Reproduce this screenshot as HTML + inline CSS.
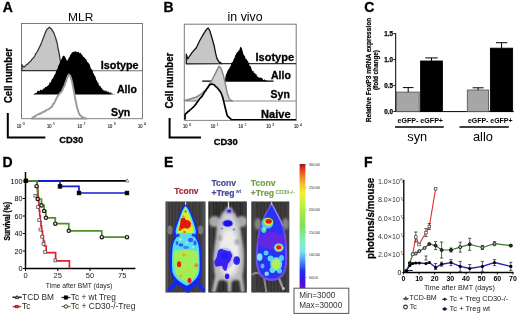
<!DOCTYPE html>
<html><head><meta charset="utf-8"><style>
html,body{margin:0;padding:0;background:#fff;}
svg{display:block;font-family:"Liberation Sans", sans-serif;filter:blur(0.35px);}
</style></head><body>
<svg width="520" height="316" viewBox="0 0 520 316">
<text x="2.8" y="12.2" font-size="14" font-weight="bold" fill="#000" text-anchor="start" stroke="#000" stroke-width="0.3" >A</text>
<text x="68" y="21.1" font-size="11.7" font-weight="normal" fill="#000" textLength="25.3" lengthAdjust="spacingAndGlyphs">MLR</text>
<rect x="21.5" y="23.5" width="121" height="95.1" fill="none" stroke="#7a7a7a" stroke-width="1"/>
<polygon points="21.9,70.6 21.9,64.7 23.0,66.5 24.0,67.1 24.9,66.3 25.8,65.4 26.8,64.4 27.7,64.2 28.6,62.8 29.5,62.3 30.4,61.2 31.4,60.4 32.3,58.7 33.3,57.9 34.2,56.8 35.0,55.5 35.8,53.6 36.6,52.5 37.4,51.3 38.2,49.7 39.4,47.3 40.6,44.9 41.6,42.4 42.7,39.4 43.7,37.0 44.9,33.7 46.1,30.7 47.2,29.2 48.2,28.3 49.3,27.1 50.5,28.4 51.6,29.1 52.8,31.2 54.0,33.1 54.8,35.6 55.6,37.8 56.4,40.5 57.2,43.4 58.0,48.1 59.2,53.6 60.5,62.0 61.5,70.6" fill="#c6c6c6" stroke="#333" stroke-width="1.25" stroke-linejoin="round"/>
<line x1="61" y1="70.8" x2="142.5" y2="70.8" stroke="#707070" stroke-width="1.1"/>
<polygon points="33.5,94.6 34.1,93.6 34.8,93.8 35.5,93.0 36.1,93.1 36.8,92.7 37.4,91.1 38.1,90.6 38.7,91.1 39.4,91.4 40.0,90.0 40.6,89.6 41.3,90.8 42.0,89.4 42.6,89.8 43.2,88.8 43.9,88.5 44.6,88.2 45.2,86.7 45.9,87.2 46.5,87.1 47.2,85.9 47.9,85.8 48.5,85.1 49.2,84.2 49.8,82.3 50.4,82.7 51.0,81.4 51.7,79.8 52.3,78.3 52.9,78.9 53.5,77.2 54.1,75.6 54.8,74.6 55.5,73.4 56.1,71.1 56.8,70.0 57.4,68.9 58.1,66.3 58.7,65.0 59.4,64.1 60.0,61.8 60.6,61.3 61.3,58.9 62.0,58.6 62.7,56.0 63.4,55.8 64.2,55.8 64.9,56.8 65.7,58.1 66.6,60.3 67.4,60.7 68.3,58.8 69.2,57.2 69.8,56.4 70.5,54.6 71.2,53.9 71.8,52.8 72.5,52.2 73.2,51.8 73.9,52.0 74.6,51.6 75.3,51.1 76.0,52.0 76.7,51.7 77.3,52.3 78.0,52.2 78.7,51.6 79.4,53.2 80.1,53.1 80.8,52.7 81.5,54.7 82.2,54.6 82.9,56.4 83.6,57.1 84.3,57.3 85.0,58.5 85.7,58.9 86.4,59.4 87.1,61.7 87.8,62.2 88.5,62.7 89.2,64.2 89.8,64.6 90.5,67.5 91.2,69.1 91.8,69.4 92.5,70.1 93.1,73.1 93.8,73.8 94.4,75.5 95.1,76.1 95.7,77.7 96.3,79.9 97.0,80.7 97.7,82.8 98.3,82.4 98.9,84.9 99.6,86.0 100.3,85.8 101.0,87.8 101.7,87.7 102.4,89.5 103.1,89.4 103.7,90.7 104.4,90.2 105.0,91.5 105.6,90.5 106.2,90.4 106.9,91.8 107.5,92.0 108.1,91.3 108.7,91.8 109.3,92.4 109.9,93.1 110.5,92.4 111.2,92.3 111.8,94.2 112.4,93.3 113.0,94.8 113.6,94.1 114.4,95.1 115.3,94.6" fill="#000"/>
<polygon points="31.6,118.6 32.4,117.9 33.2,117.2 34.0,117.1 34.9,116.0 35.7,115.9 36.5,115.3 37.3,114.8 38.2,114.2 39.0,114.3 39.8,113.5 40.7,113.5 41.5,113.2 42.3,112.3 43.1,111.9 44.0,111.7 44.8,111.6 45.6,110.5 46.4,110.4 47.2,109.6 48.1,109.4 48.9,109.2 49.7,108.3 50.6,107.6 51.4,107.1 52.2,106.3 53.0,104.2 53.9,103.7 54.7,102.1 55.9,99.5 57.1,97.2 57.9,95.8 58.8,94.7 59.6,93.9 60.4,92.6 61.3,92.0 62.1,90.6 63.3,87.8 64.5,85.6 65.3,83.2 66.2,80.8 67.0,78.2 67.8,76.3 68.7,74.6 70.3,75.8 71.2,78.7 72.0,81.5 73.6,89.8 74.4,93.9 75.2,98.8 76.1,102.6 76.9,107.1 77.7,109.3 78.6,112.2 79.4,114.5 80.2,115.2 81.1,115.8 81.9,116.8 82.7,117.4 83.5,117.6 84.3,117.7 85.2,118.4 86.0,118.5 86.8,118.6" fill="#fff" stroke="#999" stroke-width="1.9" stroke-linejoin="round"/>
<line x1="21.5" y1="118.6" x2="142.5" y2="118.6" stroke="#9a9a9a" stroke-width="1"/>
<text x="100.8" y="69.1" font-size="10.5" font-weight="bold" fill="#000" text-anchor="start" stroke="#000" stroke-width="0.3" textLength="37.8" lengthAdjust="spacingAndGlyphs">Isotype</text>
<text x="117" y="93" font-size="10.5" font-weight="bold" fill="#000" text-anchor="start" stroke="#000" stroke-width="0.3" >Allo</text>
<text x="111" y="115.7" font-size="10.5" font-weight="bold" fill="#000" text-anchor="start" stroke="#000" stroke-width="0.3" >Syn</text>
<text x="16.8" y="127.6" font-size="4.9" fill="#333" stroke="#333" stroke-width="0.2" textLength="4.5" lengthAdjust="spacingAndGlyphs">10</text>
<text x="22.8" y="125.3" font-size="3.4" fill="#333" stroke="#333" stroke-width="0.1">0</text>
<text x="47.1" y="127.6" font-size="4.9" fill="#333" stroke="#333" stroke-width="0.2" textLength="4.5" lengthAdjust="spacingAndGlyphs">10</text>
<text x="53.1" y="125.3" font-size="3.4" fill="#333" stroke="#333" stroke-width="0.1">1</text>
<text x="77.4" y="127.6" font-size="4.9" fill="#333" stroke="#333" stroke-width="0.2" textLength="4.5" lengthAdjust="spacingAndGlyphs">10</text>
<text x="83.4" y="125.3" font-size="3.4" fill="#333" stroke="#333" stroke-width="0.1">2</text>
<text x="107.7" y="127.6" font-size="4.9" fill="#333" stroke="#333" stroke-width="0.2" textLength="4.5" lengthAdjust="spacingAndGlyphs">10</text>
<text x="113.7" y="125.3" font-size="3.4" fill="#333" stroke="#333" stroke-width="0.1">3</text>
<text x="138.0" y="127.6" font-size="4.9" fill="#333" stroke="#333" stroke-width="0.2" textLength="4.5" lengthAdjust="spacingAndGlyphs">10</text>
<text x="144.0" y="125.3" font-size="3.4" fill="#333" stroke="#333" stroke-width="0.1">4</text>
<text transform="translate(11.7,103) rotate(-90)" font-size="11" font-weight="bold" fill="#000" text-anchor="start" textLength="55" lengthAdjust="spacingAndGlyphs" stroke="#000" stroke-width="0.3">Cell number</text>
<path d="M7.8,113 V137.6 H45.3" fill="none" stroke="#000" stroke-width="2"/>
<text x="59.2" y="142.9" font-size="9.4" font-weight="bold" fill="#000" text-anchor="start" stroke="#000" stroke-width="0.3" >CD30</text>
<text x="163.6" y="12.2" font-size="14" font-weight="bold" fill="#000" text-anchor="start" stroke="#000" stroke-width="0.3" >B</text>
<text x="227.6" y="21.3" font-size="12" font-weight="normal" fill="#000" textLength="35" lengthAdjust="spacingAndGlyphs">in vivo</text>
<rect x="184.3" y="24.2" width="111.9" height="96.1" fill="none" stroke="#7a7a7a" stroke-width="1"/>
<polygon points="186.3,63.8 186.3,54.1 187.7,59.0 192.0,52.6 196.3,47.7 199.8,40.5 203.4,34.1 206.2,29.8 208.1,28.0 209.8,30.6 211.9,37.7 214.1,45.5 215.5,52.6 216.9,58.3 219.0,61.9 221.9,63.6" fill="#c6c6c6" stroke="#111" stroke-width="1.3" stroke-linejoin="round"/>
<line x1="221" y1="63.6" x2="296.1" y2="63.6" stroke="#333" stroke-width="1.1"/>
<line x1="202.2" y1="81.1" x2="273.5" y2="81.1" stroke="#000" stroke-width="1.2"/>
<polygon points="224.8,81.1 225.8,75.0 226.5,73.5 227.2,72.1 227.9,69.8 228.5,69.4 229.1,68.7 229.8,67.3 230.4,66.6 231.0,64.7 231.6,62.4 232.2,62.1 232.8,62.0 233.4,60.1 234.0,58.5 234.6,58.1 235.2,55.2 235.9,54.7 236.5,53.0 237.1,52.3 237.7,51.9 238.2,51.6 238.8,49.9 239.3,50.5 239.9,48.0 240.6,46.8 241.5,47.6 242.2,49.5 242.9,52.3 243.5,54.5 244.1,55.5 244.7,55.5 245.3,57.5 245.9,59.2 246.5,58.7 247.2,60.8 247.8,60.8 248.4,62.6 249.0,62.7 249.6,65.9 250.3,65.7 250.9,66.9 251.5,68.8 252.1,70.7 252.7,71.3 253.4,70.8 254.0,73.1 254.6,72.9 255.2,73.6 255.8,74.5 256.4,74.0 256.9,76.2 257.5,76.2 258.1,77.4 258.7,77.0 259.3,78.2 259.8,77.2 260.4,77.7 261.0,77.6 261.5,77.9 262.1,78.1 262.7,79.0 263.2,80.0 263.8,80.1 264.4,79.1 265.0,80.7 265.5,80.1 266.1,80.1 266.7,81.4 267.3,80.7 267.8,80.5 268.4,80.9 269.0,81.1" fill="#000"/>
<polygon points="184.3,100.8 190.2,99.0 196.4,97.0 201.5,93.9 206.7,88.8 211.8,80.5 215.9,72.3 219.0,66.2 221.0,68.2 223.1,74.4 225.1,82.6 227.2,92.9 229.3,99.0 232.3,101.0" fill="#d2d2d2" stroke="#888" stroke-width="1.5" stroke-linejoin="round"/>
<line x1="231" y1="101" x2="296.1" y2="101" stroke="#8a8a8a" stroke-width="1.1"/>
<polyline points="185.1,119.6 185.1,114.4 186.1,113.4 187.2,112.5 188.2,111.4 189.0,111.1 189.9,110.0 190.8,109.4 191.6,108.7 192.5,107.7 193.3,107.3 194.1,106.3 194.9,105.3 195.8,104.4 196.6,102.8 197.4,102.1 198.4,100.6 199.5,99.0 200.5,98.0 201.5,96.9 202.6,95.4 203.6,93.9 204.6,91.8 205.7,90.9 206.7,88.8 207.7,87.9 208.7,86.2 209.7,84.7 210.8,84.5 211.8,84.0 212.8,84.3 213.9,84.7 214.9,85.7 215.9,86.8 217.0,87.4 218.0,88.8 219.0,89.9 220.0,91.3 221.0,92.9 222.1,95.5 223.1,99.0 224.1,103.1 225.1,107.3 226.1,111.3 227.2,115.5 228.2,116.8 229.3,117.6 230.3,118.6 231.2,119.2 232.0,119.6" fill="#fff" stroke="#000" stroke-width="1.7" stroke-linejoin="round"/>
<line x1="231" y1="119.6" x2="296.1" y2="119.6" stroke="#000" stroke-width="1.1"/>
<text x="255.5" y="61" font-size="10.5" font-weight="bold" fill="#000" text-anchor="start" stroke="#000" stroke-width="0.3" textLength="38.5" lengthAdjust="spacingAndGlyphs">Isotype</text>
<text x="271" y="79.3" font-size="10.5" font-weight="bold" fill="#000" text-anchor="start" stroke="#000" stroke-width="0.3" >Allo</text>
<text x="270.6" y="98.4" font-size="10.5" font-weight="bold" fill="#000" text-anchor="start" stroke="#000" stroke-width="0.3" >Syn</text>
<text x="261" y="117.7" font-size="10.5" font-weight="bold" fill="#000" text-anchor="start" stroke="#000" stroke-width="0.3" textLength="29.6" lengthAdjust="spacingAndGlyphs">Naive</text>
<text x="182.9" y="127.8" font-size="4.9" fill="#333" stroke="#333" stroke-width="0.2" textLength="4.5" lengthAdjust="spacingAndGlyphs">10</text>
<text x="188.9" y="125.5" font-size="3.4" fill="#333" stroke="#333" stroke-width="0.1">0</text>
<text x="210.7" y="127.8" font-size="4.9" fill="#333" stroke="#333" stroke-width="0.2" textLength="4.5" lengthAdjust="spacingAndGlyphs">10</text>
<text x="216.7" y="125.5" font-size="3.4" fill="#333" stroke="#333" stroke-width="0.1">1</text>
<text x="238.5" y="127.8" font-size="4.9" fill="#333" stroke="#333" stroke-width="0.2" textLength="4.5" lengthAdjust="spacingAndGlyphs">10</text>
<text x="244.5" y="125.5" font-size="3.4" fill="#333" stroke="#333" stroke-width="0.1">2</text>
<text x="266.3" y="127.8" font-size="4.9" fill="#333" stroke="#333" stroke-width="0.2" textLength="4.5" lengthAdjust="spacingAndGlyphs">10</text>
<text x="272.3" y="125.5" font-size="3.4" fill="#333" stroke="#333" stroke-width="0.1">3</text>
<text x="294.1" y="127.8" font-size="4.9" fill="#333" stroke="#333" stroke-width="0.2" textLength="4.5" lengthAdjust="spacingAndGlyphs">10</text>
<text x="300.1" y="125.5" font-size="3.4" fill="#333" stroke="#333" stroke-width="0.1">4</text>
<text transform="translate(173.2,108.5) rotate(-90)" font-size="11" font-weight="bold" fill="#000" text-anchor="start" textLength="55.8" lengthAdjust="spacingAndGlyphs" stroke="#000" stroke-width="0.3">Cell number</text>
<path d="M169.6,118 V137.5 H201" fill="none" stroke="#000" stroke-width="2"/>
<text x="213.8" y="144.6" font-size="9.4" font-weight="bold" fill="#000" text-anchor="start" stroke="#000" stroke-width="0.3" >CD30</text>
<text x="364.2" y="12.2" font-size="14" font-weight="bold" fill="#000" text-anchor="start" stroke="#000" stroke-width="0.3" >C</text>
<text transform="translate(371.3,122.2) rotate(-90)" font-size="6.5" font-weight="bold" fill="#000" text-anchor="start" textLength="104.4" lengthAdjust="spacingAndGlyphs" stroke="#000" stroke-width="0.2">Relative FoxP3 mRNA expression</text>
<text transform="translate(378.2,90) rotate(-90)" font-size="6.4" font-weight="bold" fill="#000" text-anchor="start" textLength="40" lengthAdjust="spacingAndGlyphs" stroke="#000" stroke-width="0.2">(fold change)</text>
<path d="M395.7,33.2 V111.6 H513.8" fill="none" stroke="#000" stroke-width="1"/>
<line x1="393.3" y1="111.5" x2="395.7" y2="111.5" stroke="#000" stroke-width="0.9"/>
<text x="393" y="113.7" font-size="6.3" font-weight="bold" fill="#000" text-anchor="end" stroke="#000" stroke-width="0.25" >0.0</text>
<line x1="393.3" y1="85.6" x2="395.7" y2="85.6" stroke="#000" stroke-width="0.9"/>
<text x="393" y="87.8" font-size="6.3" font-weight="bold" fill="#000" text-anchor="end" stroke="#000" stroke-width="0.25" >0.5</text>
<line x1="393.3" y1="59.6" x2="395.7" y2="59.6" stroke="#000" stroke-width="0.9"/>
<text x="393" y="61.800000000000004" font-size="6.3" font-weight="bold" fill="#000" text-anchor="end" stroke="#000" stroke-width="0.25" >1.0</text>
<line x1="393.3" y1="33.6" x2="395.7" y2="33.6" stroke="#000" stroke-width="0.9"/>
<text x="393" y="35.800000000000004" font-size="6.3" font-weight="bold" fill="#000" text-anchor="end" stroke="#000" stroke-width="0.25" >1.5</text>
<rect x="396.4" y="92.1" width="22.80000000000001" height="19.400000000000006" fill="#a6a6a6" stroke="#5a5a5a" stroke-width="0.9"/>
<path d="M408.2,92.1 V87.6 M402.9,87.6 H413.5" stroke="#000" stroke-width="1" fill="none"/>
<rect x="420.6" y="61.0" width="21.799999999999955" height="50.5" fill="#000" stroke="#000" stroke-width="0.9"/>
<path d="M431.5,61.0 V57.9 M425.3,57.9 H437.7" stroke="#000" stroke-width="1" fill="none"/>
<rect x="467.3" y="90.0" width="21.19999999999999" height="21.5" fill="#a6a6a6" stroke="#5a5a5a" stroke-width="0.9"/>
<path d="M478.1,90.0 V87.8 M472.6,87.8 H483.6" stroke="#000" stroke-width="1" fill="none"/>
<rect x="490.4" y="48.2" width="22.200000000000045" height="63.3" fill="#000" stroke="#000" stroke-width="0.9"/>
<path d="M501.6,48.2 V42.7 M496.0,42.7 H507.20000000000005" stroke="#000" stroke-width="1" fill="none"/>
<text x="397.5" y="122.6" font-size="7" font-weight="bold" fill="#000" text-anchor="start" textLength="45.5" lengthAdjust="spacingAndGlyphs">eGFP- eGFP+</text>
<text x="468" y="122.6" font-size="7" font-weight="bold" fill="#000" text-anchor="start" textLength="44.5" lengthAdjust="spacingAndGlyphs">eGFP- eGFP+</text>
<line x1="395" y1="127" x2="443.8" y2="127" stroke="#000" stroke-width="1.5"/>
<line x1="459.5" y1="127" x2="508.8" y2="127" stroke="#000" stroke-width="1.5"/>
<text x="407.3" y="141.2" font-size="12.8" font-weight="normal" fill="#000" text-anchor="start" >syn</text>
<text x="473" y="141.2" font-size="12.8" font-weight="normal" fill="#000" text-anchor="start" >allo</text>
<text x="2.5" y="166.5" font-size="14" font-weight="bold" fill="#000" text-anchor="start" stroke="#000" stroke-width="0.3" >D</text>
<path d="M25.5,172 V268.5 H135.4" fill="none" stroke="#000" stroke-width="1.5"/>
<line x1="22.8" y1="268.5" x2="25.5" y2="268.5" stroke="#000" stroke-width="1"/>
<text x="22.5" y="271.1" font-size="7.2" font-weight="normal" fill="#000" text-anchor="end" >0</text>
<line x1="22.8" y1="251.0" x2="25.5" y2="251.0" stroke="#000" stroke-width="1"/>
<text x="22.5" y="253.6" font-size="7.2" font-weight="normal" fill="#000" text-anchor="end" >20</text>
<line x1="22.8" y1="233.5" x2="25.5" y2="233.5" stroke="#000" stroke-width="1"/>
<text x="22.5" y="236.1" font-size="7.2" font-weight="normal" fill="#000" text-anchor="end" >40</text>
<line x1="22.8" y1="216.0" x2="25.5" y2="216.0" stroke="#000" stroke-width="1"/>
<text x="22.5" y="218.6" font-size="7.2" font-weight="normal" fill="#000" text-anchor="end" >60</text>
<line x1="22.8" y1="198.5" x2="25.5" y2="198.5" stroke="#000" stroke-width="1"/>
<text x="22.5" y="201.1" font-size="7.2" font-weight="normal" fill="#000" text-anchor="end" >80</text>
<line x1="22.8" y1="181.0" x2="25.5" y2="181.0" stroke="#000" stroke-width="1"/>
<text x="22.5" y="183.6" font-size="7.2" font-weight="normal" fill="#000" text-anchor="end" >100</text>
<line x1="25.5" y1="268.5" x2="25.5" y2="271" stroke="#000" stroke-width="1"/>
<text x="25.5" y="277.6" font-size="7.5" font-weight="normal" fill="#222" text-anchor="middle" >0</text>
<line x1="57.75" y1="268.5" x2="57.75" y2="271" stroke="#000" stroke-width="1"/>
<text x="57.75" y="277.6" font-size="7.5" font-weight="normal" fill="#222" text-anchor="middle" >25</text>
<line x1="90.0" y1="268.5" x2="90.0" y2="271" stroke="#000" stroke-width="1"/>
<text x="90.0" y="277.6" font-size="7.5" font-weight="normal" fill="#222" text-anchor="middle" >50</text>
<line x1="122.25" y1="268.5" x2="122.25" y2="271" stroke="#000" stroke-width="1"/>
<text x="122.25" y="277.6" font-size="7.5" font-weight="normal" fill="#222" text-anchor="middle" >75</text>
<text x="45.8" y="287.6" font-size="7.2" font-weight="normal" fill="#222" textLength="66.5" lengthAdjust="spacingAndGlyphs">Time after BMT (days)</text>
<text transform="translate(9.7,240.6) rotate(-90)" font-size="8.7" font-weight="bold" fill="#000" text-anchor="start" textLength="38.6" lengthAdjust="spacingAndGlyphs" stroke="#000" stroke-width="0.3">Survival (%)</text>
<path d="M25.5,180.8 H127" stroke="#000" stroke-width="1.7" fill="none"/>
<path d="M37,180.8 H60 V186.4 H79 V193 H127" stroke="#1a1ad0" stroke-width="1.7" fill="none"/>
<polyline points="37.2,180.8 37.2,180.8 37.2,186.0 37.6,186.0 37.6,191.0 38.0,191.0 38.0,196.0 38.4,196.0 38.4,201.0 38.9,201.0 38.9,206.0 39.3,206.0 39.3,211.0 39.7,211.0 39.7,216.0 40.3,216.0 40.3,221.0 41.0,221.0 41.0,226.0 41.7,226.0 41.7,231.0 42.5,231.0 42.5,236.0 43.4,236.0 43.4,241.0 44.4,241.0 44.4,246.0 46.2,246.0 46.2,252.6 55.6,252.6 55.6,260.8 69.4,260.8 69.4,268.5" stroke="#e0202a" stroke-width="1.7" fill="none"/>
<polyline points="25.5,180.8 37.0,180.8 37.0,186.2 37.6,186.2 37.6,199.0 41.5,199.0 41.5,205.4 44.1,205.4 44.1,211.0 45.9,211.0 45.9,217.8 55.3,217.8 55.3,223.7 68.8,223.7 68.8,230.8 101.8,230.8 101.8,237.2 127.0,237.2" stroke="#4f8f2a" stroke-width="1.7" fill="none"/>
<rect x="24.099999999999998" y="179.0" width="3.6" height="3.6" fill="#000" stroke="#000" stroke-width="0.8"/>
<rect x="58.2" y="184.6" width="3.6" height="3.6" fill="#000" stroke="#000" stroke-width="0.8"/>
<rect x="77.2" y="191.2" width="3.6" height="3.6" fill="#000" stroke="#000" stroke-width="0.8"/>
<rect x="125.2" y="191.2" width="3.6" height="3.6" fill="#000" stroke="#000" stroke-width="0.8"/>
<rect x="33.9" y="194.4" width="2.8" height="2.8" fill="#f4f4f4" stroke="#555" stroke-width="0.8"/>
<rect x="36.6" y="205.6" width="2.8" height="2.8" fill="#f4f4f4" stroke="#555" stroke-width="0.8"/>
<rect x="37.800000000000004" y="218.6" width="2.8" height="2.8" fill="#f4f4f4" stroke="#555" stroke-width="0.8"/>
<rect x="39.0" y="228.2" width="2.8" height="2.8" fill="#f4f4f4" stroke="#555" stroke-width="0.8"/>
<rect x="40.7" y="235.29999999999998" width="2.8" height="2.8" fill="#f4f4f4" stroke="#555" stroke-width="0.8"/>
<rect x="42.1" y="242.4" width="2.8" height="2.8" fill="#f4f4f4" stroke="#555" stroke-width="0.8"/>
<rect x="43.7" y="250.7" width="2.8" height="2.8" fill="#f4f4f4" stroke="#555" stroke-width="0.8"/>
<rect x="53.9" y="259.0" width="2.8" height="2.8" fill="#f4f4f4" stroke="#555" stroke-width="0.8"/>
<circle cx="36.6" cy="186.2" r="1.7" fill="#ddd" stroke="#1a1a1a" stroke-width="1.2"/>
<circle cx="37.7" cy="199" r="1.7" fill="#ddd" stroke="#1a1a1a" stroke-width="1.2"/>
<circle cx="41.5" cy="205.4" r="1.7" fill="#ddd" stroke="#1a1a1a" stroke-width="1.2"/>
<circle cx="44.1" cy="211" r="1.7" fill="#ddd" stroke="#1a1a1a" stroke-width="1.2"/>
<circle cx="45.9" cy="217.8" r="1.7" fill="#ddd" stroke="#1a1a1a" stroke-width="1.2"/>
<circle cx="55.3" cy="223.7" r="1.7" fill="#ddd" stroke="#1a1a1a" stroke-width="1.2"/>
<circle cx="68.8" cy="230.8" r="1.7" fill="#ddd" stroke="#1a1a1a" stroke-width="1.2"/>
<circle cx="101.8" cy="237.2" r="1.7" fill="#ddd" stroke="#1a1a1a" stroke-width="1.2"/>
<circle cx="127" cy="237.2" r="1.7" fill="#ddd" stroke="#1a1a1a" stroke-width="1.2"/>
<path d="M125.2,182 L127,178.8 L128.8,182 Z" fill="#fff" stroke="#555" stroke-width="0.7"/>
<line x1="12.5" y1="297.2" x2="21.7" y2="297.2" stroke="#000" stroke-width="1.3"/>
<path d="M15.5,298.6 L17.1,295.6 L18.7,298.6 Z" fill="#fff" stroke="#000" stroke-width="0.8"/>
<text x="22.1" y="299.8" font-size="8.3" font-weight="normal" fill="#2a2a2a" text-anchor="start" >TCD BM</text>
<line x1="12.7" y1="306.6" x2="21" y2="306.6" stroke="#d02030" stroke-width="1.5"/>
<rect x="15.600000000000001" y="305.40000000000003" width="2.4" height="2.4" fill="#d05060" stroke="#801020" stroke-width="0.8"/>
<text x="22.1" y="309" font-size="8.3" font-weight="normal" fill="#2a2a2a" text-anchor="start" >Tc</text>
<line x1="61.5" y1="297.5" x2="70.4" y2="297.5" stroke="#1a1ad0" stroke-width="1.3"/>
<rect x="64.30000000000001" y="295.9" width="3.2" height="3.2" fill="#000" stroke="#000" stroke-width="0.8"/>
<text x="70.8" y="300" font-size="8.3" font-weight="normal" fill="#2a2a2a" text-anchor="start" >Tc + wt Treg</text>
<line x1="61.5" y1="306.5" x2="70.4" y2="306.5" stroke="#4f8f2a" stroke-width="1.3"/>
<circle cx="65.9" cy="306.5" r="1.7" fill="#fff" stroke="#222" stroke-width="0.9"/>
<text x="70.8" y="309.1" font-size="8.4" font-weight="normal" fill="#2a2a2a" textLength="64.6" lengthAdjust="spacingAndGlyphs">Tc + CD30-/-Treg</text>
<text x="163.9" y="167.2" font-size="14" font-weight="bold" fill="#000" text-anchor="start" stroke="#000" stroke-width="0.3" >E</text>
<text x="174.2" y="193.6" font-size="8.5" font-weight="bold" fill="#a02838" text-anchor="start" stroke="#a02838" stroke-width="0.15" >Tconv</text>
<text x="211.4" y="186.3" font-size="8.6" font-weight="bold" fill="#48489a" text-anchor="start" stroke="#48489a" stroke-width="0.2" >Tconv</text>
<text x="211.4" y="196" font-size="8.6" font-weight="bold" fill="#48489a" text-anchor="start" stroke="#48489a" stroke-width="0.2" >+Treg</text>
<text x="235.7" y="193.4" font-size="5" font-weight="bold" fill="#4a4a9c" text-anchor="start" >wt</text>
<text x="250.8" y="186.3" font-size="8.6" font-weight="bold" fill="#76a04e" text-anchor="start" stroke="#76a04e" stroke-width="0.2" >Tconv</text>
<text x="250.8" y="196" font-size="8.6" font-weight="bold" fill="#76a04e" text-anchor="start" stroke="#76a04e" stroke-width="0.2" >+Treg</text>
<text x="275.4" y="193.6" font-size="4.9" font-weight="bold" fill="#78a050" text-anchor="start" textLength="19.2" lengthAdjust="spacingAndGlyphs">CD30-/-</text>
<defs>
<filter id="bl" x="-20%" y="-20%" width="140%" height="140%"><feGaussianBlur stdDeviation="0.7"/></filter>
<filter id="bl2" x="-20%" y="-20%" width="140%" height="140%"><feGaussianBlur stdDeviation="1.3"/></filter>
<pattern id="st" x="0" y="0" width="3.4" height="20" patternUnits="userSpaceOnUse"><rect x="0" y="0" width="1.1" height="20" fill="#ffffff" opacity="0.07"/></pattern>
<clipPath id="c1"><rect x="165.5" y="201.5" width="40" height="91"/></clipPath>
<clipPath id="c2"><rect x="208.3" y="201.5" width="38.5" height="91"/></clipPath>
<clipPath id="c3"><rect x="251.3" y="201.5" width="38" height="91"/></clipPath>
</defs>
<!-- mouse 1 -->
<rect x="165.5" y="201.5" width="40" height="91" fill="#3b3838"/>
<rect x="165.5" y="201.5" width="40" height="91" fill="url(#st)"/>
<g clip-path="url(#c1)">
<g filter="url(#bl)">
<rect x="166.3" y="201.5" width="2" height="91" fill="#5a5656"/>
<rect x="202.5" y="201.5" width="2" height="91" fill="#555050"/>
<rect x="176" y="201.5" width="1.5" height="91" fill="#444040"/>
<rect x="194" y="201.5" width="1.5" height="91" fill="#444040"/>
<ellipse cx="170" cy="230" rx="2.6" ry="4.6" fill="#7c7878"/>
<ellipse cx="200.8" cy="230" rx="2.6" ry="4.6" fill="#7c7878"/>
<path d="M185.5,203.5 C183,206 181,210 179.5,214 C177.5,219 175.5,224 174,229 C173,232 173.5,234 175,236.5 C173,239 171,243 170.5,248 C170,256 169.5,265 170.5,272 C171,276 172.5,279 174.5,281 L167,290 L169.5,292.5 L177,284.5 C180,286.5 183,288 185.5,290 L186,293 L190,293 L190.5,290 C193,288 195,286.5 197.5,284.5 L203,292.5 L205.5,290 L198.5,281 C200.5,279 201.5,276 201.5,272 C202,265 201.5,256 201,248 C200.5,243 198.5,239 196.5,236.5 C198,234 198.5,232 197.5,229 C196,224 194,219 192,214 C190.5,210 188.5,206 185.5,203.5 Z" fill="#1626f0"/>
<path d="M185.5,205.8 C183.5,208 182,211.5 180.8,215 C179,219.5 177.2,224.5 176,229 C175.2,232 175.8,234 177.2,236.5 C175,239 173,243 172.5,248 C172,256 171.6,265 172.4,271.5 C173.5,276.5 178,281.5 187,285.8 C194,282 198.5,277 199.3,271.5 C199.9,265 199.5,256 199,248 C198.5,243 196.5,239 194.3,236.5 C195.8,234 196.3,232 195.5,229 C194.3,224.5 192.5,219.5 190.7,215 C189.3,211.5 187.8,208 185.5,205.8 Z" fill="#56dcf2"/>
<path d="M185.5,207.3 C184,209.5 182.7,213 181.7,216 C180,220.5 178.3,225.5 177.6,230 L177.8,233 L193.5,233 L193.9,230 C193,225.5 191.2,220.5 189.8,216 C188.6,213 187.2,209.5 185.5,207.3 Z" fill="#c8f040"/>
<ellipse cx="185.5" cy="224.5" rx="6.2" ry="7.6" fill="#f2e41c"/>
<path d="M173.8,251 C180,249.5 191,249.5 198,251 C198.6,258 198.6,266 197.6,271.5 C195.8,276.5 192.8,280.5 189,283.5 C184,281.5 179,278.5 176,274 C174.3,268 173.4,259 173.8,251 Z" fill="#a4ee54"/>
<ellipse cx="177.8" cy="235.3" rx="2" ry="1.6" fill="#2440f0"/>
<ellipse cx="193.5" cy="235" rx="2" ry="1.5" fill="#2440f0"/>
<ellipse cx="190.6" cy="240" rx="2.6" ry="2.2" fill="#3060f4"/>
<ellipse cx="181" cy="245" rx="2.4" ry="1.8" fill="#3060f4"/>
<ellipse cx="195" cy="243" rx="1.6" ry="2.4" fill="#3060f4"/>
<ellipse cx="186" cy="247.5" rx="3" ry="1.4" fill="#4080f4"/>
<ellipse cx="177" cy="243" rx="1.4" ry="2" fill="#3060f4"/>
<ellipse cx="180.5" cy="239.5" rx="1.6" ry="1.4" fill="#b0f080"/>
<ellipse cx="186.5" cy="242.5" rx="1.4" ry="1.2" fill="#a0f0a0"/>
<ellipse cx="193" cy="247" rx="1.4" ry="1.2" fill="#90f0c0"/>
</g>
<g filter="url(#bl)">
<path d="M181.5,218 L184.5,217.5 L186,220 L189,220.5 L191.2,223 L190.5,226.5 L188,228.8 L184,228 L181.5,229.5 L179.2,227.5 L180.2,224 L180.5,220.5 Z" fill="#e41810"/>
<ellipse cx="185.6" cy="211.5" rx="1.1" ry="1.2" fill="#8a9020"/>
<ellipse cx="183.5" cy="216.5" rx="0.9" ry="0.9" fill="#c09020"/>
<ellipse cx="180" cy="229.5" rx="1.4" ry="1.2" fill="#e43010"/>
<ellipse cx="184.5" cy="232" rx="1.4" ry="1" fill="#e86010"/>
<ellipse cx="179.1" cy="264.2" rx="2.1" ry="3" fill="#e42010"/>
<ellipse cx="189.5" cy="280.4" rx="2" ry="2.6" fill="#e41a10"/>
<ellipse cx="196.3" cy="265.2" rx="2" ry="2" fill="#f08a20"/>
<ellipse cx="184" cy="255" rx="1.6" ry="1.4" fill="#f0a020"/>
<ellipse cx="180.7" cy="275.7" rx="1.5" ry="1.5" fill="#f0b020"/>
<ellipse cx="186.9" cy="270.4" rx="1.2" ry="1.2" fill="#f0c020"/>
<ellipse cx="192" cy="260" rx="1.4" ry="1.2" fill="#70f0d0"/>
</g>
<rect x="185" y="201.5" width="1.2" height="3.5" fill="#c8c8d8"/>
</g>
<!-- mouse 2 -->
<rect x="208.3" y="201.5" width="38.5" height="91" fill="#2a2a2a"/>
<rect x="208.3" y="201.5" width="38.5" height="91" fill="url(#st)"/>
<g clip-path="url(#c2)">
<g filter="url(#bl)">
<rect x="210" y="201.5" width="3" height="91" fill="#3e3e3e"/>
<rect x="243" y="201.5" width="2.5" height="91" fill="#3a3a3a"/>
<rect x="220" y="201.5" width="1.5" height="91" fill="#343434"/>
<rect x="236" y="201.5" width="1.5" height="91" fill="#343434"/>
</g>
<g filter="url(#bl2)">
<circle cx="214.6" cy="221.5" r="5.6" fill="#a8a8a8"/>
<circle cx="241.6" cy="221.5" r="5.6" fill="#a8a8a8"/>
<path d="M228.5,207.5 C224,210 221,214 219.5,219 C217,224 216,230 216,236 C215,243 213.5,250 213.5,258 C213.5,266 214,272 215,276 L212,292 L215.5,292 L218.5,281 C221,279 225,280 227.5,282 L228,292 L231,292 L231.5,282 C234,280 237,279 239.5,281 L241,292 L244.5,292 L242.5,276 C243.5,270 244,264 244,257 C244,249 242.5,242 241.5,236 C241,230 240,224 237.5,219 C236,214 233,210 228.5,207.5 Z" fill="#bcbcbc"/>
<path d="M228.5,211 C225,214 222.5,220 221.5,228 C220,238 218,248 218,258 C218,266 220,273 224,276 C227,278 231,278 234,276 C238,273 240,266 240,258 C240,248 238,238 236.5,228 C235,220 232,214 228.5,211 Z" fill="#d8d8d8"/>
<ellipse cx="229" cy="252" rx="9" ry="22" fill="#ececec"/>
<ellipse cx="228.5" cy="218" rx="4.5" ry="4" fill="#d0d0d0"/>
<ellipse cx="229" cy="210.5" rx="4" ry="3.5" fill="#a09eb4"/>
<ellipse cx="220" cy="238" rx="2.5" ry="3" fill="#a0a0a0"/>
<ellipse cx="237" cy="242" rx="2.5" ry="3" fill="#a8a8a8"/>
</g>
<rect x="227.8" y="201.5" width="1.3" height="8" fill="#dedede"/>
<g filter="url(#bl)">
<ellipse cx="229" cy="211.2" rx="3.4" ry="2.6" fill="#9a90e0"/>
<ellipse cx="229.2" cy="211" rx="2.2" ry="1.6" fill="#3a20e8"/>
<ellipse cx="227.6" cy="223.4" rx="5.6" ry="3.8" fill="#8078f2"/>
<ellipse cx="227.8" cy="223.4" rx="4.4" ry="2.8" fill="#1c10ec"/>
<ellipse cx="224" cy="258.5" rx="10.5" ry="11" fill="#b8b0f0" opacity="0.7"/>
<path d="M218.4,250.2 L221,248.8 L225.4,250.2 L230.6,251.6 L232.3,255.4 L230.6,260.6 L228,264.1 L226.3,271 L223.7,270.2 L221.9,265.8 L215.8,266.7 L214.1,262.3 L216.7,257.1 L217.6,252.8 Z" fill="#3a24ee"/>
<ellipse cx="224.5" cy="256" rx="3.4" ry="3.2" fill="#1a20f4"/>
<ellipse cx="236.7" cy="260.6" rx="3.3" ry="4.3" fill="#3a24ee"/>
<ellipse cx="236.7" cy="260.6" rx="1.8" ry="2.4" fill="#1a20f4"/>
<ellipse cx="227.1" cy="276.3" rx="2.2" ry="2.8" fill="#2a18ee"/>
<ellipse cx="222" cy="228.5" rx="1.3" ry="1" fill="#8078f0"/>
<ellipse cx="234" cy="229.5" rx="1.3" ry="1" fill="#8078f0"/>
</g>
</g>
<!-- mouse 3 -->
<rect x="251.3" y="201.5" width="38" height="91" fill="#353333"/>
<rect x="251.3" y="201.5" width="38" height="91" fill="url(#st)"/>
<g clip-path="url(#c3)">
<g filter="url(#bl)">
<rect x="253" y="201.5" width="2.5" height="91" fill="#454242"/>
<rect x="286.5" y="201.5" width="2.5" height="91" fill="#434040"/>
<rect x="262" y="201.5" width="1.5" height="91" fill="#3e3b3b"/>
</g>
<g filter="url(#bl2)">
<ellipse cx="257.8" cy="224" rx="3.4" ry="6" fill="#858383"/>
<ellipse cx="285.5" cy="224" rx="3.4" ry="6" fill="#858383"/>
</g>
<g filter="url(#bl)">
<path d="M251.5,275 Q258,270 264,277 L266.5,293" stroke="#8a8888" stroke-width="2" fill="none"/>
<path d="M279,278 L283.5,290" stroke="#9a9898" stroke-width="2.2" fill="none"/>
<circle cx="283.5" cy="288.5" r="1.4" fill="#c0c0a0"/>
<path d="M271.5,202.5 C268,208 265,213 263,218 C260.5,224 258.5,230 257.5,236 C256.5,243 256,250 255.8,258 C255.7,266 257,272 260,276 C263.5,279.5 268,281 271.5,281 C276,281 280.5,279 283.5,275.5 C286.5,271 287.2,265 287.2,257 C287.2,250 286.8,243 286,236 C285,230 283,224 280.5,218 C278,213 275,208 271.5,202.5 Z" fill="#7050e4"/>
<path d="M271.5,205.5 C268.5,210 266,215 264.5,219 C262,225 260,231 259.2,237 C258.3,244 258,251 258,258 C258,265 259,270.5 261.5,274 C264.5,277 268,278.5 271.5,278.5 C275.5,278.5 279.5,277 282,274 C284.5,270 285.2,264.5 285.2,257.5 C285.2,250.5 284.8,244 284.2,237 C283.3,231 281.5,225 279,219 C277,215 274.5,210 271.5,205.5 Z" fill="#2a30f4"/>
<ellipse cx="271.5" cy="240.5" rx="13.5" ry="8.5" fill="#6426e4"/>
<ellipse cx="267.5" cy="223" rx="5.8" ry="5.6" fill="#50c8f4"/>
<ellipse cx="268.4" cy="222" rx="4.7" ry="4" fill="#a8f040"/>
<ellipse cx="268.6" cy="221.6" rx="4" ry="3.2" fill="#f0e020"/>
<ellipse cx="268.7" cy="221.3" rx="3.2" ry="2.4" fill="#e81810"/>
<ellipse cx="259.7" cy="257.1" rx="2.8" ry="3.8" fill="#78e8f0"/>
<ellipse cx="266" cy="253" rx="2.5" ry="2.5" fill="#58c8f8"/>
<ellipse cx="270.5" cy="258.5" rx="3" ry="3" fill="#60d0f4"/>
<ellipse cx="272.5" cy="270" rx="3" ry="3" fill="#60d8f0"/>
<ellipse cx="266.7" cy="273.7" rx="2.3" ry="2.2" fill="#70e0f0"/>
<ellipse cx="262.5" cy="266" rx="2" ry="2.5" fill="#50b8f8"/>
<ellipse cx="281.5" cy="258" rx="2.5" ry="3" fill="#58c8f8"/>
<ellipse cx="279.5" cy="271" rx="2.5" ry="2.5" fill="#58c8f8"/>
<ellipse cx="276.2" cy="264.1" rx="6" ry="7" fill="#60d8f0"/>
<ellipse cx="276.2" cy="264.1" rx="4.4" ry="5.4" fill="#b0f060"/>
<ellipse cx="278.8" cy="247.6" rx="5" ry="4.4" fill="#50c8f4"/>
<ellipse cx="278.8" cy="247.6" rx="3.8" ry="3.2" fill="#f0e020"/>
<ellipse cx="278.8" cy="247.4" rx="2.6" ry="2.1" fill="#e81810"/>
<ellipse cx="263.8" cy="229.5" rx="2.6" ry="3.4" fill="#50c8f0"/>
<ellipse cx="264.2" cy="229" rx="1.3" ry="1.8" fill="#a0f060"/>
<path d="M271.5,203 L283,226" stroke="#a0a0e8" stroke-width="0.9"/>
</g>
<rect x="270.9" y="201.5" width="1.1" height="3.5" fill="#b8b8d0"/>
</g>

<defs><linearGradient id="cb" x1="0" y1="0" x2="0" y2="1">
<stop offset="0" stop-color="#901818"/><stop offset="0.025" stop-color="#d02818"/><stop offset="0.06" stop-color="#e85020"/>
<stop offset="0.11" stop-color="#f08828"/><stop offset="0.17" stop-color="#f0c828"/><stop offset="0.23" stop-color="#f0f030"/>
<stop offset="0.3" stop-color="#d0f040"/><stop offset="0.4" stop-color="#a0e848"/><stop offset="0.5" stop-color="#80e060"/>
<stop offset="0.62" stop-color="#80f0c0"/><stop offset="0.7" stop-color="#80e0f0"/><stop offset="0.77" stop-color="#50a0f0"/>
<stop offset="0.86" stop-color="#2030f0"/><stop offset="0.93" stop-color="#4010e0"/><stop offset="1" stop-color="#6010c8"/></linearGradient></defs>
<rect x="299.6" y="164" width="5.8" height="124.5" fill="url(#cb)"/>
<text x="308.8" y="165.9" font-size="4.1" fill="#404040">30000</text>
<line x1="305.4" y1="164.4" x2="307" y2="164.4" stroke="#888" stroke-width="0.5"/>
<text x="308.8" y="189.2" font-size="4.1" fill="#404040">25000</text>
<line x1="305.4" y1="187.7" x2="307" y2="187.7" stroke="#888" stroke-width="0.5"/>
<text x="308.8" y="211.4" font-size="4.1" fill="#404040">20000</text>
<line x1="305.4" y1="209.9" x2="307" y2="209.9" stroke="#888" stroke-width="0.5"/>
<text x="308.8" y="233.6" font-size="4.1" fill="#404040">15000</text>
<line x1="305.4" y1="232.1" x2="307" y2="232.1" stroke="#888" stroke-width="0.5"/>
<text x="308.8" y="256.4" font-size="4.1" fill="#404040">10000</text>
<line x1="305.4" y1="254.9" x2="307" y2="254.9" stroke="#888" stroke-width="0.5"/>
<text x="308.8" y="279.0" font-size="4.1" fill="#404040">5000</text>
<line x1="305.4" y1="277.5" x2="307" y2="277.5" stroke="#888" stroke-width="0.5"/>
<rect x="294" y="288.2" width="54.8" height="25.2" fill="#fff" stroke="#555" stroke-width="1"/>
<text x="299.2" y="298.3" font-size="8.3" font-weight="normal" fill="#333" textLength="36" lengthAdjust="spacingAndGlyphs">Min=3000</text>
<text x="299.2" y="308.1" font-size="8.3" font-weight="normal" fill="#333" textLength="43" lengthAdjust="spacingAndGlyphs">Max=30000</text>
<text x="363.9" y="167.2" font-size="14" font-weight="bold" fill="#000" text-anchor="start" stroke="#000" stroke-width="0.3" >F</text>
<text transform="translate(374.2,258.9) rotate(-90)" font-size="11" font-weight="bold" fill="#000" text-anchor="start" textLength="81.2" lengthAdjust="spacingAndGlyphs" stroke="#000" stroke-width="0.3">photons/s/mouse</text>
<path d="M403.8,179.8 V272.5 H513.5" fill="none" stroke="#000" stroke-width="1.3"/>
<line x1="402.4" y1="272.5" x2="403.8" y2="272.5" stroke="#000" stroke-width="1"/>
<text x="401.5" y="274.7" font-size="7" font-weight="normal" fill="#000" text-anchor="end" >0</text>
<line x1="402.4" y1="254.4" x2="403.8" y2="254.4" stroke="#000" stroke-width="1"/>
<text x="377.9" y="256.7" font-size="6.7" fill="#3a3a3a" textLength="22" lengthAdjust="spacingAndGlyphs">2.0×10</text>
<text x="400.3" y="253.8" font-size="4.2" fill="#3a3a3a">7</text>
<line x1="402.4" y1="236.3" x2="403.8" y2="236.3" stroke="#000" stroke-width="1"/>
<text x="377.9" y="238.60000000000002" font-size="6.7" fill="#3a3a3a" textLength="22" lengthAdjust="spacingAndGlyphs">4.0×10</text>
<text x="400.3" y="235.70000000000002" font-size="4.2" fill="#3a3a3a">7</text>
<line x1="402.4" y1="218.2" x2="403.8" y2="218.2" stroke="#000" stroke-width="1"/>
<text x="377.9" y="220.5" font-size="6.7" fill="#3a3a3a" textLength="22" lengthAdjust="spacingAndGlyphs">6.0×10</text>
<text x="400.3" y="217.6" font-size="4.2" fill="#3a3a3a">7</text>
<line x1="402.4" y1="200.1" x2="403.8" y2="200.1" stroke="#000" stroke-width="1"/>
<text x="377.9" y="202.4" font-size="6.7" fill="#3a3a3a" textLength="22" lengthAdjust="spacingAndGlyphs">8.0×10</text>
<text x="400.3" y="199.5" font-size="4.2" fill="#3a3a3a">7</text>
<line x1="402.4" y1="182.0" x2="403.8" y2="182.0" stroke="#000" stroke-width="1"/>
<text x="377.9" y="184.3" font-size="6.7" fill="#3a3a3a" textLength="22" lengthAdjust="spacingAndGlyphs">1.0×10</text>
<text x="400.3" y="181.4" font-size="4.2" fill="#3a3a3a">8</text>
<line x1="403.4" y1="272.5" x2="403.4" y2="274.5" stroke="#000" stroke-width="0.9"/>
<text x="403.4" y="280.9" font-size="7" font-weight="bold" fill="#000" text-anchor="middle" >0</text>
<line x1="419.04999999999995" y1="272.5" x2="419.04999999999995" y2="274.5" stroke="#000" stroke-width="0.9"/>
<text x="419.04999999999995" y="280.9" font-size="7" font-weight="bold" fill="#000" text-anchor="middle" >10</text>
<line x1="434.7" y1="272.5" x2="434.7" y2="274.5" stroke="#000" stroke-width="0.9"/>
<text x="434.7" y="280.9" font-size="7" font-weight="bold" fill="#000" text-anchor="middle" >20</text>
<line x1="450.34999999999997" y1="272.5" x2="450.34999999999997" y2="274.5" stroke="#000" stroke-width="0.9"/>
<text x="450.34999999999997" y="280.9" font-size="7" font-weight="bold" fill="#000" text-anchor="middle" >30</text>
<line x1="466.0" y1="272.5" x2="466.0" y2="274.5" stroke="#000" stroke-width="0.9"/>
<text x="466.0" y="280.9" font-size="7" font-weight="bold" fill="#000" text-anchor="middle" >40</text>
<line x1="481.65" y1="272.5" x2="481.65" y2="274.5" stroke="#000" stroke-width="0.9"/>
<text x="481.65" y="280.9" font-size="7" font-weight="bold" fill="#000" text-anchor="middle" >50</text>
<line x1="497.29999999999995" y1="272.5" x2="497.29999999999995" y2="274.5" stroke="#000" stroke-width="0.9"/>
<text x="497.29999999999995" y="280.9" font-size="7" font-weight="bold" fill="#000" text-anchor="middle" >60</text>
<line x1="512.9499999999999" y1="272.5" x2="512.9499999999999" y2="274.5" stroke="#000" stroke-width="0.9"/>
<text x="512.9499999999999" y="280.9" font-size="7" font-weight="bold" fill="#000" text-anchor="middle" >70</text>
<text x="424" y="290.4" font-size="7.2" font-weight="normal" fill="#222" textLength="70.8" lengthAdjust="spacingAndGlyphs">Time after BMT (days)</text>
<polyline points="404.5,272.0 406.3,271.0 409.8,270.5 412.7,270.5" stroke="#000" stroke-width="1" fill="none"/>
<polyline points="406.3,270.9 409.8,263.0 412.7,254.3 415.8,253.5 419.3,251.1 424.5,248.0 429.3,244.0 435.6,245.6 441.6,250.0 451.0,250.0 460.2,247.1 469.7,244.3 482.4,247.5 494.5,243.7 510.8,245.6" stroke="#3d7a25" stroke-width="1.2" fill="none"/>
<polyline points="406.3,270.9 409.8,265.5 412.7,263.5 415.8,263.0 419.3,263.0 426.0,263.5 429.3,262.5 435.6,267.5 441.6,264.2 451.0,262.6 460.2,266.4 469.7,268.5 482.4,266.4 494.5,262.6 510.8,266.4" stroke="#2222c8" stroke-width="1.4" fill="none"/>
<polyline points="412.7,254.3 415.8,237.0 419.0,244.5 426.0,232.6 429.3,226.5 435.6,188.7" stroke="#e03030" stroke-width="1.1" fill="none"/>
<path d="M415.8,232 V242 M414.2,232 H417.40000000000003 M414.2,242 H417.40000000000003" stroke="#333" stroke-width="0.8" fill="none"/>
<path d="M426,228.6 V236.6 M424.4,228.6 H427.6 M424.4,236.6 H427.6" stroke="#333" stroke-width="0.8" fill="none"/>
<path d="M429.3,223.5 V229.5 M427.7,223.5 H430.90000000000003 M427.7,229.5 H430.90000000000003" stroke="#333" stroke-width="0.8" fill="none"/>
<path d="M435.6,241.6 V249.6 M434.0,241.6 H437.20000000000005 M434.0,249.6 H437.20000000000005" stroke="#333" stroke-width="0.8" fill="none"/>
<path d="M441.6,242 V258 M440.0,242 H443.20000000000005 M440.0,258 H443.20000000000005" stroke="#333" stroke-width="0.8" fill="none"/>
<path d="M451,248 V252 M449.4,248 H452.6 M449.4,252 H452.6" stroke="#333" stroke-width="0.8" fill="none"/>
<path d="M460.2,242.1 V252.1 M458.59999999999997,242.1 H461.8 M458.59999999999997,252.1 H461.8" stroke="#333" stroke-width="0.8" fill="none"/>
<path d="M469.7,238.3 V250.3 M468.09999999999997,238.3 H471.3 M468.09999999999997,250.3 H471.3" stroke="#333" stroke-width="0.8" fill="none"/>
<path d="M482.4,245.5 V249.5 M480.79999999999995,245.5 H484.0 M480.79999999999995,249.5 H484.0" stroke="#333" stroke-width="0.8" fill="none"/>
<path d="M494.5,241.7 V245.7 M492.9,241.7 H496.1 M492.9,245.7 H496.1" stroke="#333" stroke-width="0.8" fill="none"/>
<path d="M510.8,244.6 V246.6 M509.2,244.6 H512.4 M509.2,246.6 H512.4" stroke="#333" stroke-width="0.8" fill="none"/>
<path d="M441.6,262.2 V266.2 M440.0,262.2 H443.20000000000005 M440.0,266.2 H443.20000000000005" stroke="#333" stroke-width="0.8" fill="none"/>
<path d="M451,259.6 V265.6 M449.4,259.6 H452.6 M449.4,265.6 H452.6" stroke="#333" stroke-width="0.8" fill="none"/>
<path d="M460.2,261.4 V271.4 M458.59999999999997,261.4 H461.8 M458.59999999999997,271.4 H461.8" stroke="#333" stroke-width="0.8" fill="none"/>
<path d="M469.7,264.5 V272.5 M468.09999999999997,264.5 H471.3 M468.09999999999997,272.5 H471.3" stroke="#333" stroke-width="0.8" fill="none"/>
<path d="M482.4,261.4 V271.4 M480.79999999999995,261.4 H484.0 M480.79999999999995,271.4 H484.0" stroke="#333" stroke-width="0.8" fill="none"/>
<path d="M494.5,259.6 V265.6 M492.9,259.6 H496.1 M492.9,265.6 H496.1" stroke="#333" stroke-width="0.8" fill="none"/>
<path d="M510.8,262.4 V270.4 M509.2,262.4 H512.4 M509.2,270.4 H512.4" stroke="#333" stroke-width="0.8" fill="none"/>
<path d="M426,256 V260 M424.4,256 H427.6 M424.4,260 H427.6" stroke="#333" stroke-width="0.8" fill="none"/>
<path d="M435.6,263.5 V269.5 M434.0,263.5 H437.20000000000005 M434.0,269.5 H437.20000000000005" stroke="#333" stroke-width="0.8" fill="none"/>
<circle cx="406.3" cy="270.9" r="1.5" fill="#333" stroke="#111" stroke-width="0.9"/>
<circle cx="409.8" cy="263" r="1.5" fill="#333" stroke="#111" stroke-width="0.9"/>
<circle cx="412.7" cy="254.3" r="1.5" fill="#bbb" stroke="#111" stroke-width="0.9"/>
<circle cx="415.8" cy="253.5" r="1.5" fill="#bbb" stroke="#111" stroke-width="0.9"/>
<circle cx="419.3" cy="251.1" r="1.5" fill="#bbb" stroke="#111" stroke-width="0.9"/>
<circle cx="424.5" cy="248" r="1.5" fill="#bbb" stroke="#111" stroke-width="0.9"/>
<circle cx="429.3" cy="244" r="1.5" fill="#333" stroke="#111" stroke-width="0.9"/>
<circle cx="435.6" cy="245.6" r="1.5" fill="#333" stroke="#111" stroke-width="0.9"/>
<circle cx="441.6" cy="250" r="1.5" fill="#333" stroke="#111" stroke-width="0.9"/>
<circle cx="451" cy="250" r="1.5" fill="#333" stroke="#111" stroke-width="0.9"/>
<circle cx="460.2" cy="247.1" r="1.5" fill="#bbb" stroke="#111" stroke-width="0.9"/>
<circle cx="469.7" cy="244.3" r="1.5" fill="#333" stroke="#111" stroke-width="0.9"/>
<circle cx="482.4" cy="247.5" r="1.5" fill="#bbb" stroke="#111" stroke-width="0.9"/>
<circle cx="494.5" cy="243.7" r="1.5" fill="#bbb" stroke="#111" stroke-width="0.9"/>
<circle cx="510.8" cy="245.6" r="1.5" fill="#333" stroke="#111" stroke-width="0.9"/>
<circle cx="406.3" cy="270.9" r="1.6" fill="#000"/>
<circle cx="409.8" cy="265.5" r="1.6" fill="#000"/>
<circle cx="412.7" cy="263.5" r="1.6" fill="#000"/>
<circle cx="415.8" cy="263" r="1.6" fill="#000"/>
<circle cx="419.3" cy="263" r="1.6" fill="#000"/>
<circle cx="426" cy="263.5" r="1.6" fill="#000"/>
<circle cx="429.3" cy="262.5" r="1.6" fill="#000"/>
<circle cx="435.6" cy="267.5" r="1.6" fill="#000"/>
<circle cx="441.6" cy="264.2" r="1.6" fill="#000"/>
<circle cx="451" cy="262.6" r="1.6" fill="#000"/>
<circle cx="460.2" cy="266.4" r="1.6" fill="#000"/>
<circle cx="469.7" cy="268.5" r="1.6" fill="#000"/>
<circle cx="482.4" cy="266.4" r="1.6" fill="#000"/>
<circle cx="494.5" cy="262.6" r="1.6" fill="#000"/>
<circle cx="510.8" cy="266.4" r="1.6" fill="#000"/>
<rect x="411.4" y="253.0" width="2.6" height="2.6" fill="#fff" stroke="#555" stroke-width="0.8"/>
<rect x="414.5" y="235.7" width="2.6" height="2.6" fill="#fff" stroke="#555" stroke-width="0.8"/>
<rect x="417.7" y="243.2" width="2.6" height="2.6" fill="#fff" stroke="#555" stroke-width="0.8"/>
<rect x="424.7" y="231.29999999999998" width="2.6" height="2.6" fill="#fff" stroke="#555" stroke-width="0.8"/>
<rect x="428.0" y="225.2" width="2.6" height="2.6" fill="#fff" stroke="#555" stroke-width="0.8"/>
<rect x="434.3" y="187.39999999999998" width="2.6" height="2.6" fill="#fff" stroke="#555" stroke-width="0.8"/>
<line x1="402.9" y1="298.6" x2="408.7" y2="298.6" stroke="#444" stroke-width="0.9"/>
<path d="M404.1,299.6 L405.8,296.6 L407.5,299.6 Z" fill="#555" stroke="#333" stroke-width="0.6"/>
<text x="409.2" y="300.2" font-size="7.1" font-weight="normal" fill="#222" text-anchor="start" >TCD-BM</text>
<circle cx="405.5" cy="307" r="1.9" fill="#fff" stroke="#333" stroke-width="1.1"/>
<text x="409.8" y="309.3" font-size="7.1" font-weight="normal" fill="#222" text-anchor="start" >Tc</text>
<line x1="442.1" y1="299.3" x2="447.3" y2="299.3" stroke="#222" stroke-width="0.9"/>
<path d="M442.9,299.3 L444.7,297.5 L446.5,299.3 L444.7,301.1 Z" fill="#222"/>
<text x="449.6" y="301" font-size="7.8" font-weight="normal" fill="#222" textLength="58.6" lengthAdjust="spacingAndGlyphs">Tc + Treg CD30-/-</text>
<line x1="442.1" y1="309" x2="447.3" y2="309" stroke="#202060" stroke-width="0.9"/>
<circle cx="444.7" cy="309" r="1.8" fill="#101040"/>
<text x="449.6" y="310.9" font-size="7.8" font-weight="normal" fill="#222" textLength="40.6" lengthAdjust="spacingAndGlyphs">Tc + Treg wt</text>
</svg></body></html>
